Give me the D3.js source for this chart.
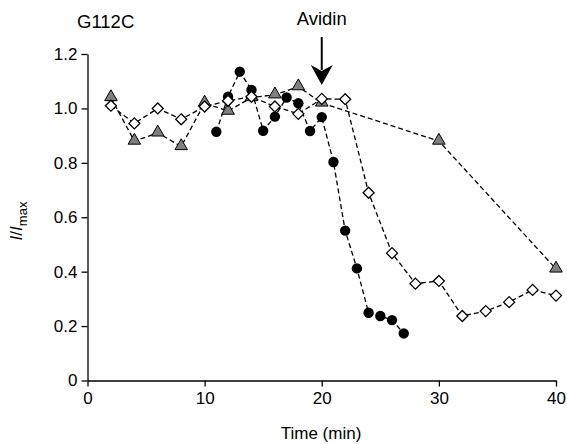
<!DOCTYPE html>
<html>
<head>
<meta charset="utf-8">
<script src="https://cdn.jsdelivr.net/npm/d3@7"></script>
<style>
  body { margin: 0; background: #fff; }
  text { font-family: "Liberation Sans", Arial, sans-serif; fill: #000; }
</style>
</head>
<body>
<div class="visHolder"></div>
<script>
// values
var triTime = [2, 4, 6, 8, 10, 12, 14, 16, 18, 20, 30, 40];
var triVal = [1.04, 0.88, 0.91, 0.86, 1.02, 0.99, 1.04, 1.05, 1.08, 1.02, 0.88, 0.41];

var diaTime = [2, 4, 6, 8, 10, 12, 14, 16, 18, 20, 22, 24, 26, 28, 30, 32, 34, 36, 38, 40];
var diaVal = [1.01, 0.945, 1.0, 0.96, 1.007, 1.028, 1.043, 1.007, 0.98, 1.035, 1.034,
  0.69, 0.468, 0.356, 0.366, 0.237, 0.255, 0.288, 0.333, 0.312];

var dotTime = [11, 12, 13, 14, 15, 16, 17, 18, 19, 20, 21, 22, 23, 24, 25, 26, 27];
var dotVal = [0.914, 1.043, 1.135, 1.068, 0.918, 0.97, 1.04, 1.019, 0.917, 0.968,
  0.803, 0.551, 0.412, 0.249, 0.237, 0.222, 0.173];

var xTicks = [0, 10, 20, 30, 40];
var yTicks = [0, 0.2, 0.4, 0.6, 0.8, 1.0, 1.2];
var avidinTime = 20;

var width = 567,
  height = 444;

var svg = d3
  .select(".visHolder")
  .append("svg")
  .attr("width", width)
  .attr("height", height);

var xScale = d3.scaleLinear().domain([0, 40]).range([87.5, 556]);
var yScale = d3.scaleLinear().domain([0, 1.2]).range([380.5, 54]);

var xAxis = d3
  .axisBottom(xScale)
  .tickValues(xTicks)
  .tickSize(6)
  .tickSizeOuter(0)
  .tickPadding(5)
  .tickFormat(d3.format("d"));

var yAxis = d3
  .axisLeft(yScale)
  .tickValues(yTicks)
  .tickSize(6)
  .tickSizeOuter(0)
  .tickPadding(4)
  .tickFormat(function (d) {
    return d === 0 ? "0" : d3.format(".1f")(d);
  });

var gx = svg.append("g").attr("transform", "translate(0, 380.5)").call(xAxis);
var gy = svg.append("g").attr("transform", "translate(87.5, 0)").call(yAxis);

[gx, gy].forEach(function (g) {
  g.selectAll("path, line").attr("stroke", "#000").attr("stroke-width", 1.3);
  g.selectAll("text")
    .style("font-family", '"Liberation Sans", Arial, sans-serif')
    .style("font-size", "17px")
    .attr("fill", "#000");
});

// axis titles
svg
  .append("text")
  .attr("x", 321)
  .attr("y", 439)
  .attr("text-anchor", "middle")
  .style("font-size", "17px")
  .text("Time (min)");

var ylab = svg
  .append("text")
  .attr("transform", "translate(22, 221) rotate(-90)")
  .attr("text-anchor", "middle")
  .style("font-size", "17px");
ylab.append("tspan").style("font-style", "italic").text("I");
ylab.append("tspan").text("/");
ylab.append("tspan").style("font-style", "italic").text("I");
ylab.append("tspan").attr("dy", 5).style("font-size", "13px").text("max");

svg
  .append("text")
  .attr("x", 77)
  .attr("y", 28)
  .style("font-size", "18.5px")
  .text("G112C");

// avidin arrow
var ax = xScale(avidinTime);
svg
  .append("text")
  .attr("x", ax)
  .attr("y", 25)
  .attr("text-anchor", "middle")
  .style("font-size", "18.5px")
  .text("Avidin");
svg
  .append("line")
  .attr("x1", ax)
  .attr("x2", ax)
  .attr("y1", 37)
  .attr("y2", 70)
  .attr("stroke", "#000")
  .attr("stroke-width", 2);
svg
  .append("path")
  .attr("d", "M" + (ax - 11) + ",65 L" + ax + ",85 L" + (ax + 11) + ",65 L" + ax + ",71 Z")
  .attr("fill", "#000");

var line = d3
  .line()
  .x(function (d) { return xScale(d[0]); })
  .y(function (d) { return yScale(d[1]); });

var tri = triTime.map(function (t, i) { return [t, triVal[i]]; });
var dia = diaTime.map(function (t, i) { return [t, diaVal[i]]; });
var dot = dotTime.map(function (t, i) { return [t, dotVal[i]]; });

[tri, dot, dia].forEach(function (s) {
  svg
    .append("path")
    .datum(s)
    .attr("d", line)
    .attr("fill", "none")
    .attr("stroke", "#000")
    .attr("stroke-width", 1.3)
    .attr("stroke-dasharray", "5,3");
});

// markers: triangles, then filled circles, diamonds on top
svg
  .selectAll(".tri")
  .data(tri)
  .enter()
  .append("path")
  .attr("class", "tri")
  .attr("d", d3.symbol().type(d3.symbolTriangle).size(68))
  .attr("transform", function (d) {
    return "translate(" + xScale(d[0]) + "," + (yScale(d[1]) - 0.5) + ")";
  })
  .attr("fill", "#7f7f7f")
  .attr("stroke", "#000")
  .attr("stroke-width", 1);

svg
  .selectAll(".dot")
  .data(dot)
  .enter()
  .append("circle")
  .attr("class", "dot")
  .attr("cx", function (d) { return xScale(d[0]); })
  .attr("cy", function (d) { return yScale(d[1]); })
  .attr("r", 5.2)
  .attr("fill", "#000");

svg
  .selectAll(".dia")
  .data(dia)
  .enter()
  .append("path")
  .attr("class", "dia")
  .attr("d", "M0,-5.5 L5.5,0 L0,5.5 L-5.5,0 Z")
  .attr("transform", function (d) {
    return "translate(" + xScale(d[0]) + "," + yScale(d[1]) + ")";
  })
  .attr("fill", "#fff")
  .attr("stroke", "#000")
  .attr("stroke-width", 1.3);
</script>
</body>
</html>
